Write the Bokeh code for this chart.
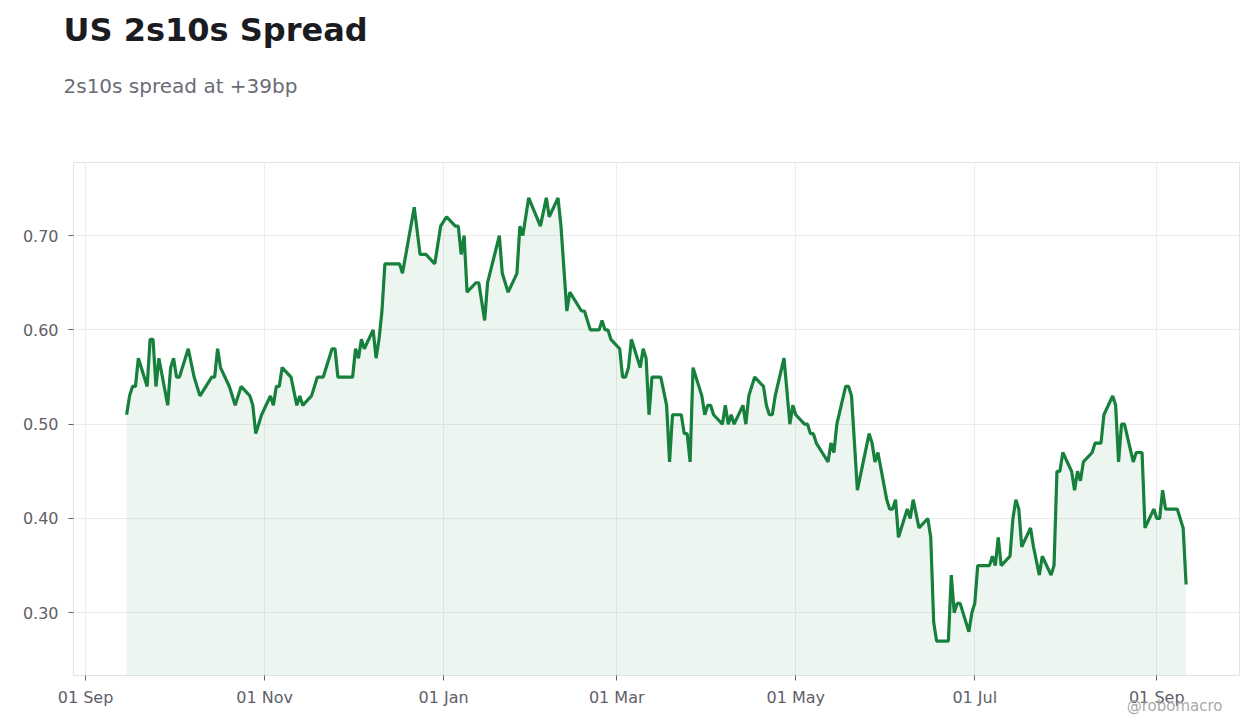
from datetime import datetime, timedelta

from bokeh.embed import file_html
from bokeh.resources import INLINE
from bokeh.plotting import figure
from bokeh.models import ColumnDataSource, FixedTicker, DatetimeTickFormatter, Range1d, NumeralTickFormatter, Title

# spread (pct pts), vertex by vertex
dates = [
    "2018-09-15", "2018-09-16", "2018-09-17", "2018-09-18", "2018-09-19", "2018-09-22", "2018-09-23",
    "2018-09-24", "2018-09-25", "2018-09-26", "2018-09-29", "2018-09-30",
    "2018-10-01", "2018-10-02", "2018-10-03", "2018-10-06", "2018-10-08", "2018-10-10", "2018-10-14",
    "2018-10-15", "2018-10-16", "2018-10-17", "2018-10-20", "2018-10-22", "2018-10-24", "2018-10-27",
    "2018-10-28", "2018-10-29", "2018-10-31",
    "2018-11-03", "2018-11-04", "2018-11-05", "2018-11-06", "2018-11-07", "2018-11-10", "2018-11-12",
    "2018-11-13", "2018-11-14", "2018-11-17", "2018-11-19", "2018-11-21", "2018-11-24", "2018-11-25",
    "2018-11-26",
    "2018-12-01", "2018-12-02", "2018-12-03", "2018-12-04", "2018-12-05", "2018-12-08", "2018-12-09",
    "2018-12-10", "2018-12-11", "2018-12-12", "2018-12-17", "2018-12-18", "2018-12-22", "2018-12-24",
    "2018-12-26", "2018-12-29", "2018-12-31",
    "2019-01-02", "2019-01-05", "2019-01-06", "2019-01-07", "2019-01-08", "2019-01-09", "2019-01-12",
    "2019-01-13", "2019-01-15", "2019-01-16", "2019-01-20", "2019-01-21", "2019-01-23", "2019-01-26",
    "2019-01-27", "2019-01-28", "2019-01-30",
    "2019-02-03", "2019-02-05", "2019-02-06", "2019-02-09", "2019-02-10", "2019-02-12", "2019-02-13",
    "2019-02-17", "2019-02-18", "2019-02-20", "2019-02-23", "2019-02-24", "2019-02-25", "2019-02-26",
    "2019-02-27",
    "2019-03-02", "2019-03-03", "2019-03-04", "2019-03-05", "2019-03-06", "2019-03-09", "2019-03-10",
    "2019-03-11", "2019-03-12", "2019-03-13", "2019-03-16", "2019-03-18", "2019-03-19", "2019-03-20",
    "2019-03-23", "2019-03-24", "2019-03-25", "2019-03-26", "2019-03-27", "2019-03-30", "2019-03-31",
    "2019-04-01", "2019-04-02", "2019-04-03", "2019-04-06", "2019-04-07", "2019-04-08", "2019-04-09",
    "2019-04-10", "2019-04-13", "2019-04-14", "2019-04-15", "2019-04-17", "2019-04-20", "2019-04-21",
    "2019-04-22", "2019-04-23", "2019-04-24", "2019-04-27", "2019-04-29", "2019-04-30",
    "2019-05-01", "2019-05-04", "2019-05-05", "2019-05-06", "2019-05-07", "2019-05-08", "2019-05-10",
    "2019-05-12", "2019-05-13", "2019-05-14", "2019-05-15", "2019-05-18", "2019-05-19", "2019-05-20",
    "2019-05-22", "2019-05-26", "2019-05-27", "2019-05-28", "2019-05-29",
    "2019-06-01", "2019-06-02", "2019-06-03", "2019-06-04", "2019-06-05", "2019-06-08", "2019-06-09",
    "2019-06-10", "2019-06-12", "2019-06-15", "2019-06-16", "2019-06-17", "2019-06-18", "2019-06-22",
    "2019-06-23", "2019-06-24", "2019-06-25", "2019-06-26", "2019-06-29", "2019-06-30",
    "2019-07-01", "2019-07-02", "2019-07-06", "2019-07-07", "2019-07-08", "2019-07-09", "2019-07-10",
    "2019-07-13", "2019-07-14", "2019-07-15", "2019-07-16", "2019-07-17", "2019-07-20", "2019-07-21",
    "2019-07-23", "2019-07-24", "2019-07-27", "2019-07-28", "2019-07-29", "2019-07-30", "2019-07-31",
    "2019-08-03", "2019-08-04", "2019-08-05", "2019-08-06", "2019-08-07", "2019-08-10", "2019-08-11",
    "2019-08-13", "2019-08-14", "2019-08-17", "2019-08-18", "2019-08-19", "2019-08-20", "2019-08-21",
    "2019-08-24", "2019-08-25", "2019-08-27", "2019-08-28", "2019-08-31",
    "2019-09-01", "2019-09-02", "2019-09-03", "2019-09-04", "2019-09-08", "2019-09-10", "2019-09-11",
]
spread = [
    0.51, 0.53, 0.54, 0.54, 0.57, 0.54, 0.59, 0.59, 0.54, 0.57, 0.52, 0.56,
    0.57, 0.55, 0.55, 0.58, 0.55, 0.53, 0.55, 0.55, 0.58, 0.56, 0.54, 0.52, 0.54, 0.53, 0.52, 0.49, 0.51,
    0.53, 0.52, 0.54, 0.54, 0.56, 0.55, 0.52, 0.53, 0.52, 0.53, 0.55, 0.55, 0.58, 0.58, 0.55,
    0.55, 0.58, 0.57, 0.59, 0.58, 0.60, 0.57, 0.59, 0.62, 0.67, 0.67, 0.66, 0.73, 0.68, 0.68, 0.67, 0.71,
    0.72, 0.71, 0.71, 0.68, 0.70, 0.64, 0.65, 0.65, 0.61, 0.65, 0.70, 0.66, 0.64, 0.66, 0.71, 0.70, 0.74,
    0.71, 0.74, 0.72, 0.74, 0.71, 0.62, 0.64, 0.62, 0.62, 0.60, 0.60, 0.61, 0.60, 0.60, 0.59,
    0.58, 0.55, 0.55, 0.56, 0.59, 0.56, 0.58, 0.57, 0.51, 0.55, 0.55, 0.52, 0.46, 0.51, 0.51, 0.49, 0.49,
    0.46, 0.56, 0.53, 0.51,
    0.52, 0.52, 0.51, 0.50, 0.52, 0.50, 0.51, 0.50, 0.52, 0.50, 0.53, 0.55, 0.54, 0.52, 0.51, 0.51, 0.53,
    0.57, 0.50, 0.52,
    0.51, 0.50, 0.50, 0.49, 0.49, 0.48, 0.47, 0.46, 0.48, 0.47, 0.50, 0.54, 0.54, 0.53, 0.43, 0.49, 0.48,
    0.46, 0.47,
    0.42, 0.41, 0.41, 0.42, 0.38, 0.41, 0.40, 0.42, 0.39, 0.40, 0.38, 0.29, 0.27, 0.27, 0.34, 0.30, 0.31,
    0.31, 0.28, 0.30,
    0.31, 0.35, 0.35, 0.36, 0.35, 0.38, 0.35, 0.36, 0.40, 0.42, 0.41, 0.37, 0.39, 0.37, 0.34, 0.36, 0.34,
    0.35, 0.45, 0.45, 0.47,
    0.45, 0.43, 0.45, 0.44, 0.46, 0.47, 0.48, 0.48, 0.51, 0.53, 0.52, 0.46, 0.50, 0.50, 0.46, 0.47, 0.47,
    0.39, 0.41,
    0.40, 0.40, 0.43, 0.41, 0.41, 0.39, 0.33,
]
tick_dates = ["2018-09-01", "2018-11-01", "2019-01-01", "2019-03-01", "2019-05-01", "2019-07-01", "2019-09-01"]
y_ticks = [0.3, 0.4, 0.5, 0.6, 0.7]

GREEN = "#16803c"
FONT = "DejaVu Sans"

def ms(d):
    return (d - datetime(1970, 1, 1)).total_seconds() * 1000.0

source = ColumnDataSource(data=dict(
    date=[datetime.strptime(d, "%Y-%m-%d") for d in dates],
    spread=spread,
))

x0 = datetime(2018, 9, 1) - timedelta(days=4.1)
x1 = datetime(2018, 9, 1) + timedelta(days=393.2)

p = figure(width=1252, height=728, x_axis_type="datetime",
           x_range=Range1d(x0, x1), y_range=Range1d(0.2335, 0.7775),
           toolbar_location=None, output_backend="svg",
           min_border_left=73, min_border_right=13, min_border_top=162, min_border_bottom=53)
p.background_fill_color = "white"
p.border_fill_color = "white"
p.outline_line_color = "#e3e3e3"
p.outline_line_width = 1

# area + line
p.varea(x="date", y1=0.2, y2="spread", source=source, fill_color=GREEN, fill_alpha=0.08)
p.line(x="date", y="spread", source=source, line_color=GREEN, line_width=3.2)

# axes
p.xaxis.ticker = FixedTicker(ticks=[ms(datetime.strptime(d, "%Y-%m-%d")) for d in tick_dates])
p.xaxis.formatter = DatetimeTickFormatter(days="%d %b", months="%d %b", years="%d %b")
p.yaxis.ticker = FixedTicker(ticks=y_ticks)
p.yaxis.formatter = NumeralTickFormatter(format="0.00")
for ax in (p.xaxis, p.yaxis):
    ax.axis_line_color = None
    ax.major_tick_line_color = "#5f6068"
    ax.major_tick_out = 5
    ax.major_tick_in = 0
    ax.minor_tick_line_color = None
    ax.major_label_text_font = FONT
    ax.major_label_text_font_size = "16px"
    ax.major_label_text_color = "#5f6068"
p.xaxis.major_label_standoff = 7
p.yaxis.major_label_standoff = 10

p.xgrid.ticker = p.xaxis.ticker
p.ygrid.ticker = p.yaxis.ticker
p.grid.grid_line_color = "#ececec"
p.grid.grid_line_width = 1

# heading: panels stack outward from the plot (spacer, subtitle, title)
p.add_layout(Title(text=" ", standoff=37, text_font=FONT, text_font_size="10px"), "above")
p.add_layout(Title(text="2s10s spread at +39bp", align="left", offset=-10, standoff=30,
                   text_font=FONT, text_font_size="20px", text_font_style="normal",
                   text_color="#6b6b75"), "above")
p.add_layout(Title(text="US 2s10s Spread", align="left", offset=-10, standoff=16,
                   text_font=FONT, text_font_size="32px", text_font_style="bold",
                   text_color="#1b1b22"), "above")

# watermark
p.add_layout(Title(text="@robomacro", align="right", offset=17, standoff=-26, vertical_align="top",
                   text_font=FONT, text_font_size="15px", text_font_style="normal",
                   text_color="#aaaaaa"), "below")

open("out.html", "w").write(file_html(p, INLINE))
